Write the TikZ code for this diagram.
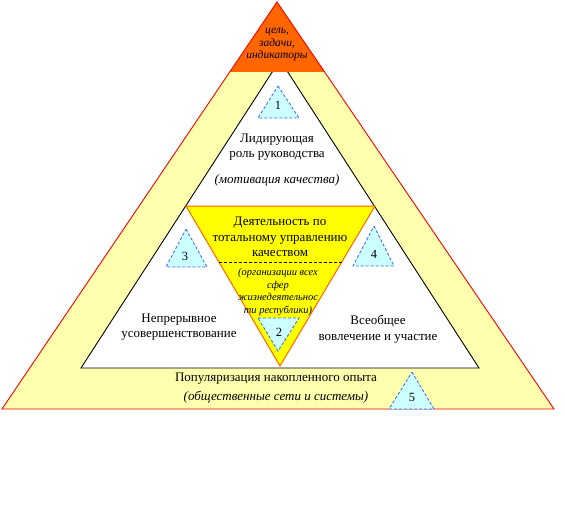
\documentclass[tikz,border=0pt]{standalone}
\usepackage{fontspec}
\setmainfont{Liberation Serif}
\begin{document}
\begin{tikzpicture}[x=1pt,y=-1pt,
  every node/.style={inner sep=0pt,align=center},
  mark5/.style={fill=cyanl,draw=blueline,dashed,dash pattern=on 3pt off 2pt,line width=0.8pt},
  maintext/.style={font=\fontsize{13}{15.5}\selectfont},
  mainit/.style={font=\fontsize{13}{15.5}\selectfont\itshape},
  smallit/.style={font=\fontsize{10.5}{12.5}\selectfont\itshape},
  goalit/.style={font=\fontsize{11.5}{12.5}\selectfont\itshape},
  numtext/.style={font=\fontsize{12.5}{14}\selectfont}]
\definecolor{outerfill}{HTML}{FFFFAE}
\definecolor{orangef}{HTML}{FF6600}
\definecolor{yel}{HTML}{FFFF00}
\definecolor{cyanl}{HTML}{CCFFFF}
\definecolor{blueline}{HTML}{3366FF}
\useasboundingbox (0,0) rectangle (565,527);
% outer triangle
\fill[outerfill] (277,2) -- (554,409) -- (2,409) -- cycle;
% inner white triangle
\filldraw[fill=white,draw=black,line width=0.9pt] (280,60) -- (479,368) -- (81,368) -- cycle;
% orange top
\fill[orangef] (277,2) -- (325,72) -- (230,72) -- cycle;
% outer outline
\draw[red,line width=0.9pt] (277,2) -- (554,409) -- (2,409) -- cycle;
% yellow inverted triangle
\filldraw[fill=yel,draw=orangef,line width=1pt] (186,206) -- (375,206) -- (280,366) -- cycle;
\draw[black,dashed,dash pattern=on 3pt off 2pt,line width=0.7pt] (219,262) -- (342,262);
% small triangles
\filldraw[mark5] (278,86) -- (299,118) -- (258,118) -- cycle;
\filldraw[mark5] (258,318) -- (299,318) -- (278,351) -- cycle;
\filldraw[mark5] (186,229) -- (207,267) -- (166,267) -- cycle;
\filldraw[mark5] (374,226) -- (394,266) -- (353,266) -- cycle;
\filldraw[mark5] (412,372) -- (434,409) -- (389,409) -- cycle;
\node[numtext] (n1) at (278,105) {1};
\node[numtext] (n2) at (279,332) {2};
\node[numtext] (n3) at (185,256) {3};
\node[numtext] (n4) at (374,254) {4};
\node[numtext] (n5) at (412,397) {5};
% texts
\node[goalit] (goal) at (277,45) {цель,\\задачи,\\индикаторы};
\node[maintext] (lead) at (277,147) {Лидирующая\\роль руководства};
\node[mainit] (motiv) at (277,180) {(мотивация качества)};
\node[maintext] (tqm) at (280,237) {Деятельность по\\тотальному управлению\\качеством};
\node[smallit] (org) at (278,292) {(организации всех\\сфер\\жизнедеятельнос\\ти республики)};
\node[maintext] (impr) at (179,327) {Непрерывное\\усовершенствование};
\node[maintext] (invol) at (378,329) {Всеобщее\\вовлечение и участие};
\node[maintext] (pop) at (276,379) {Популяризация накопленного опыта};
\node[mainit] (soc) at (276,397) {(общественные сети и системы)};
\end{tikzpicture}
\end{document}
